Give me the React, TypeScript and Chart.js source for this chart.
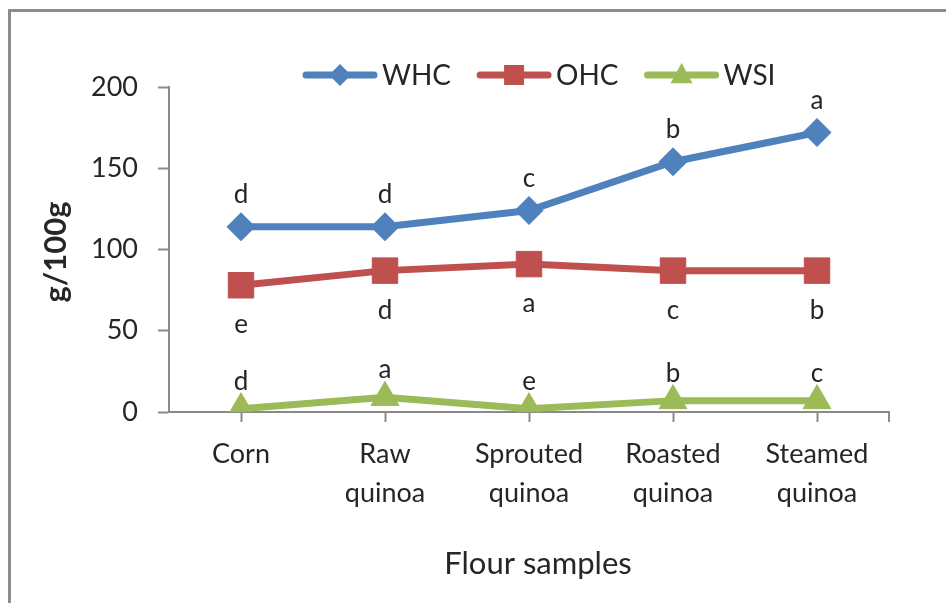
import React, { useEffect, useRef } from "react";
import { Chart, registerables } from "chart.js";

Chart.register(...registerables);

// Flour samples on the category axis (two-line labels)
const categories: string[][] = [
  ["Corn"],
  ["Raw", "quinoa"],
  ["Sprouted", "quinoa"],
  ["Roasted", "quinoa"],
  ["Steamed", "quinoa"],
];

// Water holding capacity, oil holding capacity, water solubility index (g/100g)
const whcValues = [114, 114, 124, 154, 172];
const ohcValues = [78, 87, 91, 87, 87];
const wsiValues = [2, 9, 2, 7, 7];

// Significance letters for each series
const whcLetters = ["d", "d", "c", "b", "a"];
const ohcLetters = ["e", "d", "a", "c", "b"];
const wsiLetters = ["d", "a", "e", "b", "c"];

const yTickValues = [0, 50, 100, 150, 200];

const seriesNames = ["WHC", "OHC", "WSI"];
const BLUE = "#4F81BD";
const RED = "#C0504D";
const GREEN = "#9BBB59";
const FONT = "Lato, 'Open Sans', sans-serif";
const TEXT = "#262626";
const AXIS = "#8a8a8a";

function markerPath(ctx: CanvasRenderingContext2D, style: string, x: number, y: number, r: number) {
  ctx.beginPath();
  if (style === "rectRot") {
    ctx.moveTo(x - r, y);
    ctx.lineTo(x, y - r);
    ctx.lineTo(x + r, y);
    ctx.lineTo(x, y + r);
  } else if (style === "rect") {
    ctx.rect(x - r, y - r, 2 * r, 2 * r);
  } else {
    ctx.moveTo(x, y - r * 1.1);
    ctx.lineTo(x + r, y + r * 0.75);
    ctx.lineTo(x - r, y + r * 0.75);
  }
  ctx.closePath();
}

const decorPlugin = {
  id: "decor",
  beforeDraw(chart: any) {
    const ctx = chart.ctx as CanvasRenderingContext2D;
    ctx.save();
    ctx.fillStyle = "#ffffff";
    ctx.fillRect(0, 0, chart.width, chart.height);
    // outer frame
    ctx.strokeStyle = "#8c8c8c";
    ctx.lineWidth = 3;
    ctx.strokeRect(9.5, 10.5, chart.width + 20, chart.height + 20);
    ctx.restore();
  },
  afterDraw(chart: any) {
    const ctx = chart.ctx as CanvasRenderingContext2D;
    const area = chart.chartArea;
    ctx.save();
    // end tick on the category axis
    ctx.strokeStyle = AXIS;
    ctx.lineWidth = 2;
    ctx.beginPath();
    ctx.moveTo(area.right, area.bottom);
    ctx.lineTo(area.right, area.bottom + 10);
    ctx.stroke();

    // axis titles
    ctx.fillStyle = TEXT;
    ctx.textAlign = "center";
    ctx.textBaseline = "middle";
    ctx.font = `31px ${FONT}`;
    ctx.fillText("Flour samples", 538, 564);
    ctx.save();
    ctx.translate(56, 252);
    ctx.rotate(-Math.PI / 2);
    ctx.font = `bold 31px ${FONT}`;
    ctx.fillText("g/100g", 0, 0);
    ctx.restore();

    // legend: line + marker + name
    const styles = ["rectRot", "rect", "triangle"];
    const colors = [BLUE, RED, GREEN];
    const sizes = [11, 10, 11];
    ctx.font = `28px ${FONT}`;
    ctx.textAlign = "left";
    let x = 303;
    const y = 75;
    seriesNames.forEach((name, i) => {
      ctx.strokeStyle = colors[i];
      ctx.lineWidth = 7;
      ctx.lineCap = "round";
      ctx.beginPath();
      ctx.moveTo(x + 3, y);
      ctx.lineTo(x + 71, y);
      ctx.stroke();
      ctx.fillStyle = colors[i];
      markerPath(ctx, styles[i], x + 37, y, sizes[i]);
      ctx.fill();
      ctx.fillStyle = TEXT;
      ctx.fillText(name, x + 79, y + 1);
      x += 79 + ctx.measureText(name).width + 26;
    });
    ctx.restore();
  },
  afterDatasetsDraw(chart: any) {
    const ctx = chart.ctx as CanvasRenderingContext2D;
    const letterSets = [whcLetters, ohcLetters, wsiLetters];
    const offsets = [-24, 48, -19];
    ctx.save();
    ctx.fillStyle = TEXT;
    ctx.font = `26px ${FONT}`;
    ctx.textAlign = "center";
    ctx.textBaseline = "alphabetic";
    letterSets.forEach((letters, di) => {
      const meta = chart.getDatasetMeta(di);
      meta.data.forEach((pt: any, i: number) => {
        ctx.fillText(letters[i], pt.x, pt.y + offsets[di]);
      });
    });
    ctx.restore();
  },
};

export default function App() {
  const canvasRef = useRef<HTMLCanvasElement | null>(null);

  useEffect(() => {
    const canvas = canvasRef.current;
    if (!canvas) return;
    const chart = new Chart(canvas, {
      type: "line",
      data: {
        labels: categories,
        datasets: [
          {
            label: seriesNames[0],
            data: whcValues,
            borderColor: BLUE,
            backgroundColor: BLUE,
            borderWidth: 7,
            pointStyle: "rectRot",
            pointRadius: 14,
            pointBorderWidth: 1,
            pointBackgroundColor: BLUE,
            pointBorderColor: BLUE,
          },
          {
            label: seriesNames[1],
            data: ohcValues,
            borderColor: RED,
            backgroundColor: RED,
            borderWidth: 7,
            pointStyle: "rect",
            pointRadius: 18,
            pointBorderWidth: 1,
            pointBackgroundColor: RED,
            pointBorderColor: RED,
          },
          {
            label: seriesNames[2],
            data: wsiValues,
            borderColor: GREEN,
            backgroundColor: GREEN,
            borderWidth: 7,
            pointStyle: "triangle",
            pointRadius: 16,
            pointBorderWidth: 1,
            pointBackgroundColor: GREEN,
            pointBorderColor: GREEN,
          },
        ],
      },
      options: {
        responsive: false,
        animation: false,
        devicePixelRatio: 1,
        layout: { padding: { left: 0, right: 57, top: 87, bottom: 0 } },
        plugins: {
          legend: { display: false },
          tooltip: { enabled: false },
          title: { display: false },
        },
        scales: {
          x: {
            type: "category",
            offset: true,
            grid: {
              display: true,
              offset: false,
              drawOnChartArea: false,
              drawTicks: true,
              tickLength: 10,
              tickColor: AXIS,
              tickWidth: 2,
            },
            border: { display: true, color: AXIS, width: 2 },
            ticks: {
              color: TEXT,
              font: { family: FONT, size: 27, lineHeight: 1.45 },
              maxRotation: 0,
              autoSkip: false,
              padding: 13,
            },
            afterFit(scale: any) {
              scale.height = 603 - 412;
            },
          },
          y: {
            min: 0,
            max: 200,
            afterBuildTicks(scale: any) {
              scale.ticks = yTickValues.map((v) => ({ value: v }));
            },
            grid: {
              display: true,
              drawOnChartArea: false,
              drawTicks: true,
              tickLength: 11,
              tickColor: AXIS,
              tickWidth: 2,
            },
            border: { display: true, color: AXIS, width: 2 },
            ticks: {
              color: TEXT,
              font: { family: FONT, size: 27 },
              padding: 20,
            },
            afterFit(scale: any) {
              scale.width = 169;
            },
          },
        },
      },
      plugins: [decorPlugin],
    });
    return () => chart.destroy();
  }, []);

  return (
    <div style={{ position: "fixed", left: 0, top: 0, width: 946, height: 603, background: "#fff" }}>
      <canvas ref={canvasRef} width={946} height={603} style={{ display: "block" }} />
    </div>
  );
}
